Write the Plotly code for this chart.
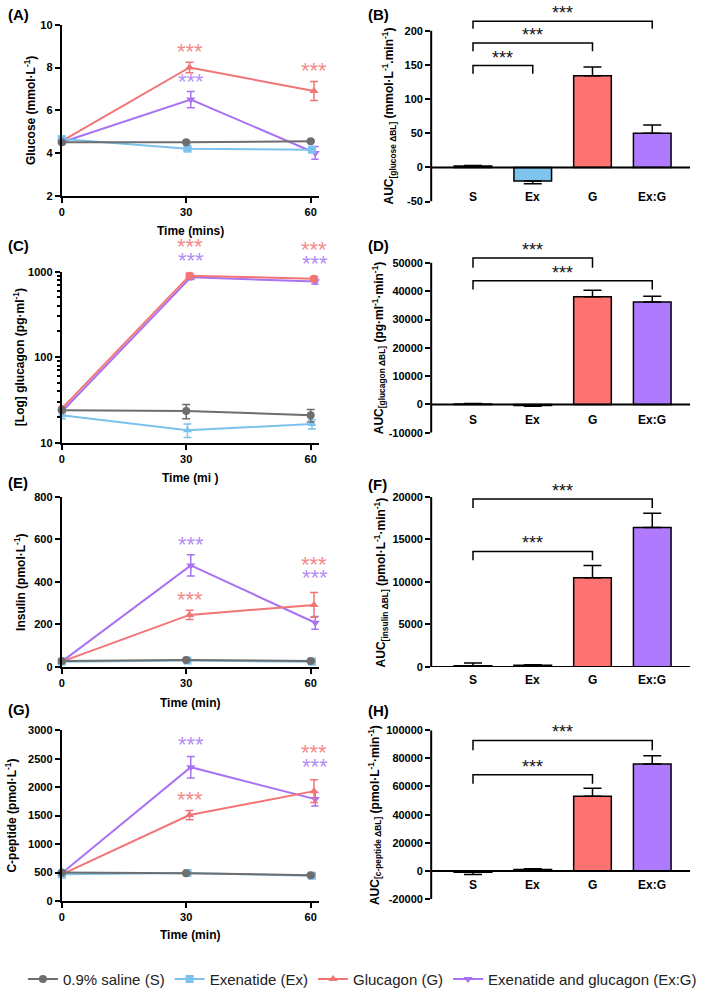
import math
import plotly.graph_objects as go

W, H = 709, 997
FONT = "Liberation Sans"

# ---------------- data ----------------
TIME = [0, 30, 60]
GROUPS = ["S", "Ex", "G", "Ex:G"]
NAMES = ["0.9% saline (S)", "Exenatide (Ex)", "Glucagon (G)", "Exenatide and glucagon (Ex:G)"]

# (A) glucose, mmol/L  (mean / SEM)
GLUCOSE_S = [4.50, 4.50, 4.55]
GLUCOSE_EX = [4.65, 4.20, 4.15]
GLUCOSE_G = [4.55, 8.00, 6.90]
GLUCOSE_EXG = [4.50, 6.50, 4.00]
GLUCOSE_S_SEM = [0.05, 0.05, 0.05]
GLUCOSE_EX_SEM = [0.08, 0.08, 0.08]
GLUCOSE_G_SEM = [0.10, 0.25, 0.45]
GLUCOSE_EXG_SEM = [0.10, 0.38, 0.30]
GLUCOSE_STARS = [("G", 30, 8.57), ("Ex:G", 30, 7.18), ("G", 60, 7.69)]

# (C) glucagon, pg/ml (log)
GLUCAGON_S = [24, 23.5, 21]
GLUCAGON_EX = [21, 14, 16.5]
GLUCAGON_G = [25, 900, 830]
GLUCAGON_EXG = [23, 860, 770]
GLUCAGON_S_SEM = [1.5, 4.5, 3.5]
GLUCAGON_EX_SEM = [2.0, 2.5, 2.0]
GLUCAGON_G_SEM = [2.0, 60, 50]
GLUCAGON_EXG_SEM = [2.0, 50, 50]
GLUCAGON_STARS = [("G", 30, 1796), ("Ex:G", 30, 1205), ("G", 60, 1615), ("Ex:G", 60, 1112)]

# (E) insulin, pmol/L
INSULIN_S = [28, 33, 28]
INSULIN_EX = [25, 30, 25]
INSULIN_G = [25, 245, 292]
INSULIN_EXG = [25, 478, 208]
INSULIN_S_SEM = [4, 4, 4]
INSULIN_EX_SEM = [4, 4, 4]
INSULIN_G_SEM = [5, 22, 58]
INSULIN_EXG_SEM = [5, 50, 30]
INSULIN_STARS = [("Ex:G", 30, 558), ("G", 30, 298), ("G", 60, 465), ("Ex:G", 60, 400)]

# (G) C-peptide, pmol/L
CPEP_S = [500, 490, 455]
CPEP_EX = [470, 495, 445]
CPEP_G = [470, 1510, 1930]
CPEP_EXG = [490, 2350, 1790]
CPEP_S_SEM = [20, 20, 20]
CPEP_EX_SEM = [20, 20, 20]
CPEP_G_SEM = [60, 80, 200]
CPEP_EXG_SEM = [30, 190, 120]
CPEP_STARS = [("Ex:G", 30, 2671), ("G", 30, 1717), ("G", 60, 2532), ("Ex:G", 60, 2289)]

# AUC bars (mean / SEM) for S, Ex, G, Ex:G
AUC_GLUCOSE = [2, -20, 134, 50]
AUC_GLUCOSE_SEM = [1, 4, 13, 12]
AUC_GLUCAGON = [200, -400, 38000, 36200]
AUC_GLUCAGON_SEM = [100, 200, 2300, 2000]
AUC_INSULIN = [150, 200, 10500, 16400]
AUC_INSULIN_SEM = [300, 60, 1450, 1700]
AUC_CPEP = [-1000, 1000, 53000, 76000]
AUC_CPEP_SEM = [1500, 500, 5800, 5800]

# significance brackets: (from group, to group, leg bottom, bracket top)
BRACKETS_B = [(0, 1, 137, 149), (0, 2, 170, 182), (0, 3, 203, 214)]
BRACKETS_D = [(0, 2, 48250, 51750), (0, 3, 40560, 43700)]
BRACKETS_F = [(0, 2, 12560, 13600), (0, 3, 18720, 19770)]
BRACKETS_H = [(0, 2, 62000, 68300), (0, 3, 85700, 92700)]

# tick values
TICKS_A = [2, 4, 6, 8, 10]
TICKS_C = [10, 100, 1000]
MINOR_C = [20, 30, 40, 50, 60, 70, 80, 90, 200, 300, 400, 500, 600, 700, 800, 900]
TICKS_E = [0, 200, 400, 600, 800]
TICKS_G = [0, 500, 1000, 1500, 2000, 2500, 3000]
TICKS_B = [-50, 0, 50, 100, 150, 200]
TICKS_D = [-10000, 0, 10000, 20000, 30000, 40000, 50000]
TICKS_F = [0, 5000, 10000, 15000, 20000]
TICKS_H = [-20000, 0, 20000, 40000, 60000, 80000, 100000]

# ---------------- style ----------------
COL = {"S": "#6e6e6e", "Ex": "#7cc2ec", "G": "#f27474", "Ex:G": "#a872f2"}
BAR_COL = {"S": "#6e6e6e", "Ex": "#7ec4ef", "G": "#ff7272", "Ex:G": "#b07aff"}
STAR_COL = {"G": "#f38a8a", "Ex:G": "#b48cf5"}
SYMBOL = {"S": "circle", "Ex": "square", "G": "triangle-up", "Ex:G": "triangle-down"}
DODGE = {"S": 0.0, "Ex": 0.3, "G": 0.8, "Ex:G": 1.1}
DRAW_ORDER = ["Ex:G", "G", "Ex", "S"]

TICKFONT = dict(family=FONT, size=11, color="black", weight="bold")
TITLEFONT = dict(family=FONT, size=12, color="black")

fig = go.Figure()
annotations = []
shapes = []
layout_axes = {}


def ydom(top_px, bot_px):
    return [1 - bot_px / H, 1 - top_px / H]


def axname(kind, n):
    return kind + ("axis" if n == 1 else "axis%d" % n)


def ref(kind, n):
    return kind if n == 1 else "%s%d" % (kind, n)


# ---------- line (time-course) panels ----------
def line_panel(n, series, sems, stars, top_px, bot_px, yrange, yticks, ytitle, xtitle,
               title_x, xtitle_y, log=False, minor=None, sym_override=None):
    x0_px, x60_px, xend_px = 59, 309, 317
    xr = [0, 60 * (xend_px - x0_px) / (x60_px - x0_px)]
    for g in DRAW_ORDER:
        sym = (sym_override or {}).get(g, SYMBOL[g])
        xs = [t + (DODGE[g] if t > 0 else 0) for t in TIME]
        fig.add_trace(go.Scatter(
            x=xs, y=series[g], mode="lines+markers",
            name=NAMES[GROUPS.index(g)], legendrank=GROUPS.index(g) + 1,
            showlegend=(n == 1),
            line=dict(color=COL[g], width=2),
            marker=dict(symbol=sym, size=8, color=COL[g]),
            error_y=dict(type="data", array=sems[g], color=COL[g], thickness=1.5, width=4),
            cliponaxis=False,
            xaxis=ref("x", n), yaxis=ref("y", n)))
    layout_axes[axname("x", n)] = dict(
        domain=[x0_px / W, xend_px / W], range=xr, anchor=ref("y", n),
        tickvals=TIME, ticktext=[str(t) for t in TIME],
        showline=True, linewidth=2, linecolor="black", ticks="outside", ticklen=5,
        tickwidth=2, tickcolor="black", tickfont=TICKFONT, showgrid=False, zeroline=False)
    ya = dict(domain=ydom(top_px, bot_px), anchor=ref("x", n),
              tickvals=yticks, ticktext=[str(t) for t in yticks],
              showline=True, linewidth=2, linecolor="black", ticks="outside", ticklen=5,
              tickwidth=2, tickcolor="black", tickfont=TICKFONT, showgrid=False, zeroline=False)
    if log:
        ya.update(type="log", range=yrange)
        ya["minor"] = dict(tickvals=minor, ticks="outside", ticklen=3, tickwidth=1.5,
                           tickcolor="black", showgrid=False)
    else:
        ya.update(range=yrange)
    layout_axes[axname("y", n)] = ya
    f = math.log10 if log else (lambda v: v)
    for g, t, yv in stars:
        # position through the axis' own scale as a domain fraction (stars may sit above the range)
        frac = (f(yv) - yrange[0]) / (yrange[1] - yrange[0])
        annotations.append(dict(
            x=t + DODGE[g], y=frac, xref=ref("x", n), yref=ref("y", n) + " domain", text="***",
            showarrow=False, font=dict(family=FONT, size=22, color=STAR_COL[g]),
            yanchor="middle", yshift=4))
    annotations.append(dict(
        x=title_x / W, y=1 - (top_px + bot_px) / 2 / H, xref="paper", yref="paper",
        text=ytitle, textangle=-90, showarrow=False, font=TITLEFONT,
        xanchor="center", yanchor="middle"))
    annotations.append(dict(
        x=(x0_px + xend_px) / 2 / W, y=1 - xtitle_y / H, xref="paper", yref="paper",
        text=xtitle, showarrow=False, font=TITLEFONT, xanchor="center", yanchor="middle"))


# ---------- bar (AUC) panels ----------
def bar_panel(n, vals, sems, brackets, ymin, ymax, ymin_px, ymax_px, yticks, ytitle,
              title_x, label_shift, headroom):
    scale = (ymin_px - ymax_px) / (ymax - ymin)
    ytop = max(ymax, headroom)
    top_px = ymax_px - (ytop - ymax) * scale
    xl_px, xr_px, c0_px, step_px = 430, 690, 472, 60
    xr = [(xl_px - c0_px) / step_px, (xr_px - c0_px) / step_px]
    fig.add_trace(go.Bar(
        x=list(range(len(GROUPS))), y=vals, width=0.63,
        marker=dict(color=[BAR_COL[g] for g in GROUPS], line=dict(color="black", width=1.5)),
        error_y=dict(type="data", symmetric=False,
                     array=[e if v >= 0 else 0 for v, e in zip(vals, sems)],
                     arrayminus=[e if v < 0 else 0 for v, e in zip(vals, sems)],
                     color="black", thickness=1.5, width=9),
        showlegend=False, xaxis=ref("x", n), yaxis=ref("y", n)))
    layout_axes[axname("x", n)] = dict(
        domain=[xl_px / W, xr_px / W], range=xr, anchor=ref("y", n),
        showticklabels=False, ticks="", showline=False, showgrid=False, zeroline=False)
    layout_axes[axname("y", n)] = dict(
        domain=ydom(top_px, ymin_px), range=[ymin, ytop], anchor=ref("x", n),
        tickvals=yticks, ticktext=[str(t) for t in yticks],
        showline=False, ticks="outside", ticklen=5, tickwidth=2, tickcolor="black",
        tickfont=TICKFONT, showgrid=False, zeroline=False)
    # y axis line (ends at the top tick) and baseline at zero
    shapes.append(dict(type="line", xref=ref("x", n) + " domain", yref=ref("y", n),
                       x0=0, x1=0, y0=ymin, y1=ymax, line=dict(color="black", width=2)))
    shapes.append(dict(type="line", xref=ref("x", n) + " domain", yref=ref("y", n),
                       x0=0, x1=1, y0=0, y1=0, line=dict(color="black", width=2)))
    for a, b, leg, top in brackets:
        shapes.append(dict(type="path", xref=ref("x", n), yref=ref("y", n),
                           path="M %s,%s L %s,%s L %s,%s L %s,%s" % (a, leg, a, top, b, top, b, leg),
                           line=dict(color="black", width=1.5)))
        annotations.append(dict(x=(a + b) / 2, y=top, xref=ref("x", n), yref=ref("y", n),
                                text="***", showarrow=False,
                                font=dict(family=FONT, size=18, color="#111111"),
                                yanchor="middle", yshift=8))
    for i, g in enumerate(GROUPS):
        annotations.append(dict(x=i, y=0, xref=ref("x", n), yref=ref("y", n),
                                text="<b>%s</b>" % g, showarrow=False, font=dict(family=FONT, size=12, color="black"),
                                yanchor="middle", yshift=-label_shift))
    annotations.append(dict(
        x=title_x / W, y=1 - (ymax_px + ymin_px) / 2 / H, xref="paper", yref="paper",
        text=ytitle, textangle=-90, showarrow=False, font=TITLEFONT,
        xanchor="center", yanchor="middle"))


def pack(s, ex, g, exg):
    return {"S": s, "Ex": ex, "G": g, "Ex:G": exg}


line_panel(1, pack(GLUCOSE_S, GLUCOSE_EX, GLUCOSE_G, GLUCOSE_EXG),
           pack(GLUCOSE_S_SEM, GLUCOSE_EX_SEM, GLUCOSE_G_SEM, GLUCOSE_EXG_SEM),
           GLUCOSE_STARS, 19, 192, [2, 10], TICKS_A,
           "<b>Glucose (mmol·L<sup>-1</sup>)</b>", "<b>Time (mins)</b>", 27, 228)
line_panel(3, pack(GLUCAGON_S, GLUCAGON_EX, GLUCAGON_G, GLUCAGON_EXG),
           pack(GLUCAGON_S_SEM, GLUCAGON_EX_SEM, GLUCAGON_G_SEM, GLUCAGON_EXG_SEM),
           GLUCAGON_STARS, 269, 442, [1, 3], TICKS_C,
           "<b>[Log] glucagon (pg·ml<sup>-1</sup>)</b>", "<b>Time (mi )</b>", 16, 478,
           log=True, minor=MINOR_C, sym_override={"G": "circle", "Ex": "triangle-up"})
line_panel(5, pack(INSULIN_S, INSULIN_EX, INSULIN_G, INSULIN_EXG),
           pack(INSULIN_S_SEM, INSULIN_EX_SEM, INSULIN_G_SEM, INSULIN_EXG_SEM),
           INSULIN_STARS, 497, 669, [0, 800], TICKS_E,
           "<b>Insulin (pmol·L<sup>-1</sup>)</b>", "<b>Time (min)</b>", 17, 705)
line_panel(7, pack(CPEP_S, CPEP_EX, CPEP_G, CPEP_EXG),
           pack(CPEP_S_SEM, CPEP_EX_SEM, CPEP_G_SEM, CPEP_EXG_SEM),
           CPEP_STARS, 733, 906, [0, 3000], TICKS_G,
           "<b>C-peptide (pmol·L<sup>-1</sup>)</b>", "<b>Time (min)</b>", 8, 940)

bar_panel(2, AUC_GLUCOSE, AUC_GLUCOSE_SEM, BRACKETS_B, -50, 200, 198, 25, TICKS_B,
          "<b>AUC<sub>[glucose ΔBL]</sub> (mmol·L<sup>-1</sup>.min<sup>-1</sup>)</b>", 388, 30, 220)
bar_panel(4, AUC_GLUCAGON, AUC_GLUCAGON_SEM, BRACKETS_D, -10000, 50000, 432, 260, TICKS_D,
          "<b>AUC<sub>[glucagon ΔBL]</sub> (pg·ml<sup>-1</sup>·min<sup>-1</sup>)</b>", 377, 16, 53000)
bar_panel(6, AUC_INSULIN, AUC_INSULIN_SEM, BRACKETS_F, 0, 20000, 669, 497, TICKS_F,
          "<b>AUC<sub>[insulin ΔBL]</sub> (pmol·L<sup>-1</sup>·min<sup>-1</sup>)</b>", 380, 13, 20500)
bar_panel(8, AUC_CPEP, AUC_CPEP_SEM, BRACKETS_H, -20000, 100000, 904, 733, TICKS_H,
          "<b>AUC<sub>[c-peptide ΔBL]</sub> (pmol·L<sup>-1</sup>·min<sup>-1</sup>)</b>", 373, 14, 100000)

PANEL_LABELS = [("(A)", 3, 9), ("(B)", 365, 9), ("(C)", 3, 242), ("(D)", 365, 242),
                ("(E)", 3, 482), ("(F)", 365, 484), ("(G)", 3, 712), ("(H)", 365, 713)]
for txt, px, py in PANEL_LABELS:
    annotations.append(dict(x=px / W, y=1 - py / H, xref="paper", yref="paper",
                            text="<b>%s</b>" % txt, showarrow=False,
                            font=dict(family=FONT, size=15, color="black"),
                            xanchor="left", yanchor="middle"))

fig.update_layout(
    width=W, height=H, margin=dict(l=0, r=0, t=0, b=0),
    paper_bgcolor="white", plot_bgcolor="white",
    font=dict(family=FONT, color="black"),
    showlegend=True,
    legend=dict(orientation="h", x=20 / W, y=1 - 985 / H, xanchor="left", yanchor="middle",
                font=dict(family=FONT, size=15, color="#222222"), bgcolor="rgba(0,0,0,0)",
                traceorder="normal"),
    annotations=annotations, shapes=shapes, bargap=0.3,
    **layout_axes)

fig.write_html("out.html")
